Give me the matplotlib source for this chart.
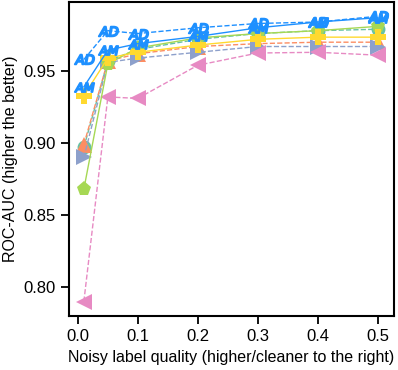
import matplotlib
matplotlib.use("Agg")
import matplotlib.pyplot as plt

plt.rcParams['font.family'] = ['Liberation Sans', 'DejaVu Sans']

x = [0.01, 0.05, 0.1, 0.2, 0.3, 0.4, 0.5]

teal = [0.897, 0.957, 0.965, 0.972, 0.976, 0.978, 0.979]
orange = [0.899, 0.957, 0.962, 0.967, 0.969, 0.970, 0.970]
purple = [0.890, 0.956, 0.959, 0.963, 0.967, 0.967, 0.967]
pink = [0.790, 0.932, 0.931, 0.954, 0.9625, 0.963, 0.961]
green = [0.868, 0.955, 0.966, 0.973, 0.976, 0.978, 0.981]
yellow = [0.933, 0.959, 0.963, 0.968, 0.972, 0.9735, 0.9735]
am = [0.939, 0.9645, 0.969, 0.974, 0.980, 0.984, 0.987]
ad = [0.958, 0.978, 0.976, 0.980, 0.983, 0.984, 0.988]

series = [
    (teal, '#66c2a5', 'o', '--', 10),
    (orange, '#fc8d62', '^', '--', 11),
    (purple, '#8da0cb', '>', '--', 11),
    (pink, '#e78ac3', '<', '--', 11),
    (green, '#a6d854', 'p', '-', 11),
    (yellow, '#ffd92f', 'P', '-', 11),
    (am, '#1e90ff', '$AM$', '-', 14),
    (ad, '#1e90ff', '$AD$', '--', 14),
]

fig = plt.figure(figsize=(3.98, 3.70), dpi=100)
ax = fig.add_axes([0.173, 0.146, 0.817, 0.849])

for vals, c, m, ls, ms in series:
    ax.plot(x, vals, color=c, marker=m, linestyle=ls, linewidth=1,
            markersize=ms, markeredgewidth=1.3 if m.startswith('$') else 0)

ax.set_xlim(-0.015, 0.527)
ax.set_ylim(0.780, 0.998)
ax.set_xticks([0.0, 0.1, 0.2, 0.3, 0.4, 0.5])
ax.set_yticks([0.80, 0.85, 0.90, 0.95])
ax.set_xlabel("Noisy label quality (higher/cleaner to the right)", fontsize=11.5)
ax.set_ylabel("ROC-AUC (higher the better)", fontsize=11.5)
ax.tick_params(labelsize=12, width=1.3, length=6)
for s in ax.spines.values():
    s.set_linewidth(1.5)

plt.savefig("out.png", dpi=100)
